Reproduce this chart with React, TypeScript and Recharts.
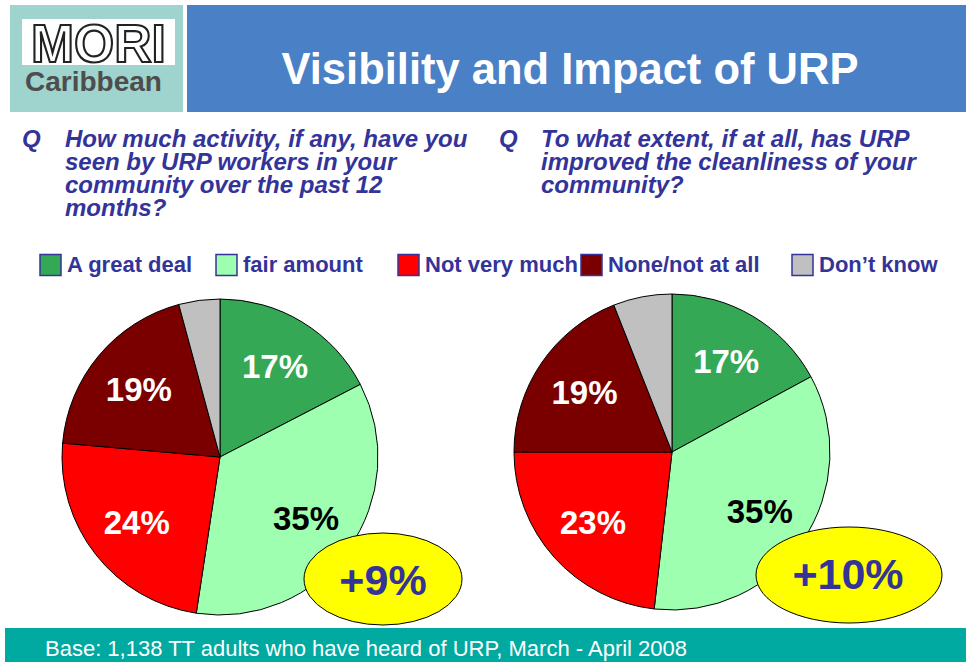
import React from "react";
import { PieChart, Pie, Cell } from "recharts";

const categories = ["A great deal", "fair amount", "Not very much", "None/not at all", "Don\u2019t know"];
const colors = ["#35a855", "#9effb0", "#ff0000", "#7a0000", "#c0c0c0"];
const activityValues = [17.4, 35.0, 24.0, 19.4, 4.2];
const cleanlinessValues = [17.1, 34.7, 23.2, 19.0, 6.0];
const changeLabels = ["+9%", "+10%"];
const question1 = ["How much activity, if any, have you", "seen by URP workers in your", "community over the past 12", "months?"];
const question2 = ["To what extent, if at all, has URP", "improved the cleanliness of your", "community?"];
const title = "Visibility and Impact of URP";
const baseText = "Base: 1,138 TT adults who have heard of URP, March - April 2008";

const legendX = [40, 216, 398, 581, 792];

const data1 = categories.map((name, i) => ({ name, value: activityValues[i] }));
const data2 = categories.map((name, i) => ({ name, value: cleanlinessValues[i] }));

const RAD = Math.PI / 180;
const FONT = "Arial, 'Liberation Sans', sans-serif";
const NAVY = "#333399";

const renderLabel = (props: any) => {
  const { cx, cy, midAngle, outerRadius, value, index } = props;
  if (index === 4) return null;
  const r = outerRadius * 0.67;
  const x = cx + r * Math.cos(-midAngle * RAD);
  const y = cy + r * Math.sin(-midAngle * RAD);
  return (
    <text x={x} y={y} textAnchor="middle" dominantBaseline="central" fill={index === 1 ? "#000" : "#fff"} fontFamily={FONT} fontWeight="bold" fontSize={33}>
      {Math.round(value)}%
    </text>
  );
};

export default function App() {
  return (
    <div style={{ position: "absolute", left: 0, top: 0, width: 966, height: 662, background: "#fff", overflow: "hidden" }}>
      <svg width={966} height={662} style={{ position: "absolute", left: 0, top: 0 }}>
        {/* Logo */}
        <rect x={10} y={5} width={173} height={107} fill="#9fd3ce" />
        <rect x={22} y={19} width={153} height={46} fill="#fff" />
        <text x={31} y={62} fontFamily={FONT} fontWeight="bold" fontSize={54} fill="#fff" stroke="#222" strokeWidth={2.2} textLength={135} lengthAdjust="spacingAndGlyphs">MORI</text>
        <text x={25} y={91} fontFamily={FONT} fontWeight="bold" fontSize={28} fill="#4d4d4d">Caribbean</text>
        {/* Title bar */}
        <rect x={187} y={5} width={779} height={107} fill="#4a80c6" />
        <text x={570} y={84} textAnchor="middle" fontFamily={FONT} fontWeight="bold" fontSize={43.5} fill="#fff">{title}</text>
        {/* Questions */}
        <text x={22} y={147} fontFamily={FONT} fontWeight="bold" fontStyle="italic" fontSize={24} fill={NAVY}>Q</text>
        {question1.map((line, i) => (
          <text key={"q1" + i} x={65} y={147 + i * 23} fontFamily={FONT} fontWeight="bold" fontStyle="italic" fontSize={24} fill={NAVY}>{line}</text>
        ))}
        <text x={499} y={147} fontFamily={FONT} fontWeight="bold" fontStyle="italic" fontSize={24} fill={NAVY}>Q</text>
        {question2.map((line, i) => (
          <text key={"q2" + i} x={541} y={147 + i * 23} fontFamily={FONT} fontWeight="bold" fontStyle="italic" fontSize={24} fill={NAVY}>{line}</text>
        ))}
        {/* Legend */}
        {categories.map((c, i) => (
          <g key={"lg" + i}>
            <rect x={legendX[i]} y={254.5} width={21} height={21} fill={colors[i]} stroke={NAVY} strokeWidth={1.5} />
            <text x={legendX[i] + 27} y={272} fontFamily={FONT} fontWeight="bold" fontSize={22} fill={NAVY}>{c}</text>
          </g>
        ))}
        {/* Footer */}
        <rect x={5} y={628} width={961} height={34} fill="#00aaa0" />
        <text x={45} y={656} fontFamily={FONT} fontSize={22} fill="#fff">{baseText}</text>
      </svg>
      <div style={{ position: "absolute", left: 0, top: 0 }}>
        <PieChart width={966} height={662} margin={{ top: 0, right: 0, bottom: 0, left: 0 }}>
          <Pie data={data1} dataKey="value" nameKey="name" cx={220} cy={457} outerRadius={158} startAngle={90} endAngle={-270} stroke="#000" strokeWidth={1} label={renderLabel} labelLine={false} isAnimationActive={false}>
            {data1.map((d, i) => <Cell key={"a" + i} fill={colors[i]} />)}
          </Pie>
          <Pie data={data2} dataKey="value" nameKey="name" cx={672} cy={452} outerRadius={158} startAngle={90} endAngle={-270} stroke="#000" strokeWidth={1} label={renderLabel} labelLine={false} isAnimationActive={false}>
            {data2.map((d, i) => <Cell key={"b" + i} fill={colors[i]} />)}
          </Pie>
        </PieChart>
      </div>
      <svg width={966} height={662} style={{ position: "absolute", left: 0, top: 0, pointerEvents: "none" }}>
        <ellipse cx={383} cy={579} rx={79} ry={46} fill="#ffff00" stroke="#000" strokeWidth={1} />
        <text x={383} y={580} textAnchor="middle" dominantBaseline="central" fontFamily={FONT} fontWeight="bold" fontSize={43} fill={NAVY}>{changeLabels[0]}</text>
        <ellipse cx={849} cy={575} rx={93} ry={48} fill="#ffff00" stroke="#000" strokeWidth={1} />
        <text x={848} y={574} textAnchor="middle" dominantBaseline="central" fontFamily={FONT} fontWeight="bold" fontSize={43} fill={NAVY}>{changeLabels[1]}</text>
      </svg>
    </div>
  );
}
